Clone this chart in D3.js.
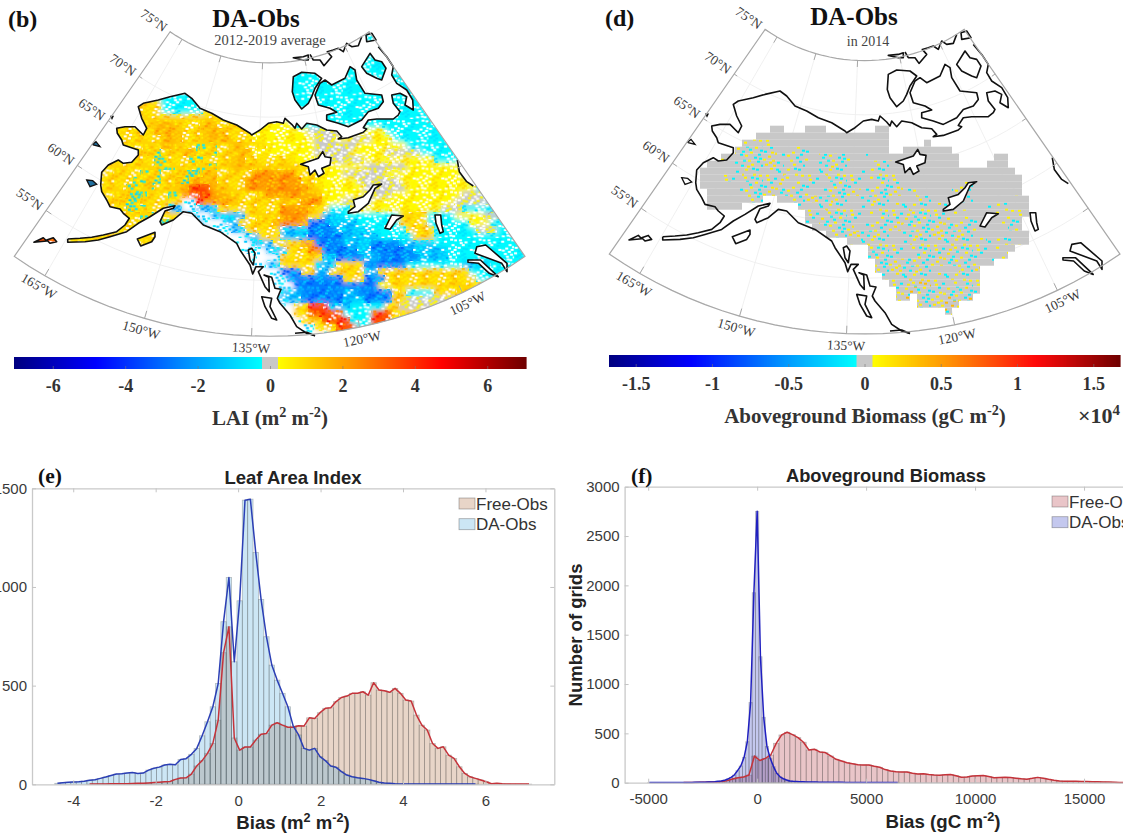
<!DOCTYPE html>
<html>
<head>
<meta charset="utf-8">
<script src="https://cdnjs.cloudflare.com/ajax/libs/d3/7.8.5/d3.min.js"></script>
<style>
  body { margin: 0; background: #fff; }
  svg { display: block; }
  .serif { font-family: "Liberation Serif", serif; }
  .sans { font-family: "Liberation Sans", sans-serif; }
</style>
</head>
<body>
<div id="chart"></div>
<script>
// ---------- histogram data (e), leaf area index, bin width 0.13 ----------
const laiBinWidth = 0.13;
const laiDaStart = -4.383;
const laiDaCounts = [5,8,10,12,13,16,21,23,30,37,45,52,54,57,60,55,57,72,81,87,98,101,99,126,130,152,182,246,317,393,511,824,1048,621,930,1440,1445,1175,937,748,604,528,461,393,295,250,182,173,182,140,120,93,86,64,47,38,33,30,25,18,10,6,5,3,2,2,2,2,1,1,1,1,1,1,1,1,1,1,1];
const laiFreeStart = -3.603;
const laiFreeCounts = [1,2,2,2,3,3,3,3,4,5,5,7,9,11,13,14,25,32,33,52,93,120,157,207,325,667,798,235,173,189,189,224,254,258,300,312,300,289,289,297,295,337,334,363,385,388,419,440,447,461,461,469,452,515,478,474,466,486,461,427,422,351,300,275,207,182,190,148,131,89,55,38,30,22,13,3,5,3,2,1,1,1,1];
const laiXTicks = [-4,-2,0,2,4,6];
const laiYTicks = [0,500,1000,1500];

// ---------- histogram data (f), aboveground biomass ----------
const agbDaWidth = 150;
const agbDaStart = -4950;
const agbDaCounts = [1,1,1,1,2,2,2,2,2,3,3,3,3,3,4,4,5,5,7,8,10,14,17,24,37,54,78,122,170,257,416,812,1926,2750,1277,663,366,247,163,95,60,40,27,17,14,12,10,9,8,7,6,6,5,5,5,4,4,4,4,4,3,3,3,3,3,3,2,2,2,2,2,2,1,1,1,1,1];
const agbFreeWidth = 250;
const agbFreeStart = -3375;
const agbFreeCounts = [2,2,3,4,5,8,8,11,21,38,51,58,78,270,225,247,281,399,484,511,487,457,410,332,339,312,305,271,237,220,203,193,183,180,180,166,156,133,119,112,109,109,95,88,90,82,78,76,80,84,70,55,58,68,70,72,62,50,52,54,52,46,40,36,44,54,46,34,24,18,15,14,14,12,12,10,10,8,6,5,3,3,3];
const agbXTicks = [-5000,0,5000,10000,15000,20000];
const agbYTicks = [0,500,1000,1500,2000,2500,3000];

// ---------- colour bars ----------
const laiBarTicks = [-6,-4,-2,0,2,4,6];
const agbBarTicks = [-1.5,-1,-0.5,0,0.5,1,1.5];

// ---------- map grid, rows run-length coded: count + class letter ----------
const laiRows = [
  "40.14c","40.14c","40.14c","40.14c","40.14c","40.14c",
  "39.26c","39.26c","39.26c",
  "20.8c11.26c",
  "18.3a7c1a10.26c",
  "17.4a6c4a8.26c",
  "18.15a6.26c",
  "14.6a3n4a2n5a6y25c",
  "14.6a4n3a3n4a8y5g6y14c",
  "14.7a3n3a4n3a9y3g2y3g3y16c",
  "14.7a2n3a3m2a2n3a7y6g7y15c",
  "14.5a2m3a2n3m3a2n9y5g5y5g14c",
  "14.6a2m3a2m4a2n7a3y7g10y12c",
  "13.7a3m3a3m2a3n8a8y6g9y10c",
  "12.6a3m3a3m2n5a6o3a4y6g11y8c",
  "12.5a4m2a2m4n4a8o2a6y6g10y8c",
  "12.4a4m3a2n3r2n3a9o2a6y6g10y7c",
  "12.4a3m3a2m1o3r1o2n5a5o3n6y4g10y3g6c",
  "12.3a3m4a2m2w1r3o2n9a3o3y4g12y5g5c",
  "12.4a3m3a2l2w3l9a4o3a3c7y6y3g9c",
  "15.3a2m4a2l2w2l3l5a4o2a3l8c4a4c4y3g3c",
  "15.6a3m3l3w2l5a5o3b4l6c4a6c3y5c",
  "15.7a3m3l3w2l4a1a4l4b5l5c4a6c3g4c",
  "3.4r1.15a2m5.3w2l3a4l5b5l5c3a13c",
  "3.4r1.13a3a6.4w3l4a2o4b4l4b5l13c",
  "18.6a8.4w3l3a2o5b2l6b5l11c",
  "19.5a10.4w3a3a2l4b2l6b4l11c",
  "34.2w2l5a3l4a6b8c4l5c",
  "36.2w3b2a2l5a2l13a8c",
  "37.2w8b3a3b13a7c",
  "37.3w12b2y17a",
  "36.2w3l6b2l5b2a4c13a",
  "37.4l6b3l4b2a7g10a",
  "38.2w2a3r3l5c2a8g8a",
  "40.2a5r4c3r10a5a",
  "39.2w3a4r3c3r9y",
  "41.2w3a3r2c3r6y",
  "41.4w2a3r2a2r",
  "42.3a3r"
];
const agbRows = [
  "","","","","","","","","","","","","","",
  "23.2g3.3g7.2g",
  "21.19g",
  "19.4h17g5.1g",
  "18.6k5h11g2.7g",
  "16.3h5k6h4k3h13g5.2g",
  "14.4g7k5h4k8h8g4.3g",
  "13.4g2h7k4h5k4h2k17g",
  "13.3g3h6k6h4k3h3k18g",
  "13.5g2h5k7h3k4h3k8g2h7g",
  "14.4g3h5k6h4k3h3k2h5g3h7g",
  "14.3g5h2.4h4k4h3k3h4h4g2h6g2h",
  "14.5g1.7.3h4k5h4k3h4k4g3h3g",
  "28.3h3k5h4k3k5h3g5h1g",
  "28.2h3k6h4k3k3k4h3g3h",
  "29.3h3k5h2k2h5k5h3g2h",
  "31.3h5k3h4k5k4h3g2h",
  "34.2h4k3h7k4k5h1g",
  "37.3k4h6k3k3h2g",
  "37.4k3h6k4h3h",
  "38.5k3h5k2h2h",
  "38.5k3k4h3k",
  "39.5k3h2k4k",
  "40.4k2v2k3h2k",
  "41.3v2k2v3k2v",
  "41.2v1.3k2v2k1v",
  "44.3k3v",
  "48.1v"
];

// class -> [base value, four speckle values], in the units of each colour bar
const laiClasses = {
  y: [0.35, ["#fff","#fff",0.9,0.25]],
  g: [0, [0.3,"#fff",0.3,"#fff"]],
  a: [1.0, [0.5,1.6,0.6,"#fff"]],
  n: [1.5, [0.9,2.2,1.1,1.8]],
  m: [0.95, [-0.6,0.4,1.6,-1.0]],
  o: [2.3, [1.5,2.9,1.9,1.1]],
  r: [3.6, [2.6,4.4,3.2,"#fff"]],
  w: ["#fff", [-1.3,-0.5,null,null]],
  c: [-0.3, ["#fff","#fff",-0.7,null]],
  l: [-1.3, [-0.4,"#fff",-2,-0.8]],
  b: [-2.7, [-1.7,-3.3,-1.3,-2.2]]
};
const agbClasses = {
  g: [0, [null,null,null,null]],
  h: [0, [0.1,-0.1,null,null]],
  k: [0, [0.1,-0.1,0.15,-0.06]],
  v: [0, [0.2,-0.1,0.1,0.35]]
};

// ---------- coast outlines, in the plane of the map projection ----------
const northCoast = [[67.7,239],[80,238.3],[91.7,237.3],[103.3,235],[116.7,231.7],[125,225],[129.3,218.3],[123.3,213.3],[120,209],[110,206.7],[106.7,200],[101.7,191.7],[100.7,185],[101.7,172.3],[108.3,165],[118.3,160],[123.3,163.3],[131.7,162.3],[138.3,155],[138.3,150],[123.3,145],[121.7,140],[117.3,133.3],[116.7,128.3],[125,126.7],[135,126.7],[143.3,135],[146.7,128.3],[141.7,118.3],[138.3,106.7],[143.3,103.3],[158.3,100],[170,96.7],[185,93.3],[191.7,98.3],[200,108.3],[211.7,113.3],[223.3,120],[236.7,125],[250,133.3],[251.7,135],[260,130],[268.3,123.3],[276.7,121.7],[283.3,123.3],[285,118.3],[291.7,124.3],[295,128.3],[296.7,123.3],[301.7,129],[306.7,123.3],[316.7,125],[326.7,130],[336.7,131],[341.7,136.7],[338.3,139],[348.3,137.7],[363.3,132.3],[366.7,129],[363.3,127.7],[368.3,120],[376.7,119],[393.3,119],[398.3,115],[400,111.7],[393.3,103.3],[391.7,95],[400,93.3],[406.7,96.7],[405,105],[413.3,110],[412.7,100],[406.7,90],[396.7,83.3],[391.7,75],[393.3,66.7],[386.7,56.7],[378.3,46.7]];
const southCoast = [[67.7,239],[67.7,242.3],[85,241.7],[98.3,240],[110,236.7],[126.7,231.7],[138.3,223.3],[150,216.7],[163.3,208.3],[175,205.7],[173.3,208.3],[165,211],[160,221.7],[161.7,225],[173.3,220],[183.3,211.7],[191.7,213.3],[203.3,225],[220,231.7],[236.7,243.3],[240,250],[250,265],[252.7,274],[256,266.7],[263.3,266.7],[258.3,271.7],[265,286.7],[269.3,291.7],[268.7,277.3],[264,275],[271.7,277.3],[275,288.3],[281,289.3],[277.3,298.3],[280,303.3],[290,315],[296.7,326.7],[306.7,333.3],[315,335.7]];
const arcticLine = [[310,54.3],[313.3,60],[320,60],[324,65.7],[331.7,56.7],[327.3,51.7],[333.3,50],[338.3,48.3],[343.3,51.7],[346.7,43.3],[351.7,46.7],[358.3,45.7],[361.7,36.7]];
const bayLine = [[457.3,160],[459.3,171.7],[466.7,181.7],[473.3,186]];
const vancouverLine = [[295,333.3],[306.7,332.3],[315,335.7]];
const islandRings = [
  [[293.3,76.7],[301.7,72.3],[315,73.3],[321.7,78.3],[315,88.3],[311.7,96.7],[308.3,103.3],[301.7,109],[295,100],[292.3,91.7]],
  [[315,95],[320,83.3],[325,80],[331.7,85],[345,78.3],[350,66.7],[355,70],[356.7,80],[365,93.3],[381.7,95],[383.3,101.7],[378.3,108.3],[368.3,111.7],[361.7,120],[348.3,126.7],[338.3,123.3],[326.7,120],[326.7,115],[336.7,112.3],[330,108.3],[318.3,105]],
  [[361.7,66.7],[370,53.3],[375,60],[381.7,61.7],[386,68.3],[381.7,80],[376.7,78.3],[366.7,73.3]],
  [[366,35],[371.7,33.3],[376,40],[366.7,41.7]],
  [[293.3,57.7],[303.3,56.7],[308.3,55],[308.3,60],[303.3,60]],
  [[137.3,239],[155,232.3],[155,236.7],[151.7,241.7],[140.7,246]],
  [[34,242.3],[43.3,237.7],[46.7,241]],
  [[46.7,240],[53.3,237.7],[56.7,241.7],[50,243.3]],
  [[261.7,296.7],[271.7,298.3],[270,306.7],[276.7,320],[271.7,318.3],[265,306.7]],
  [[248.3,250],[251.7,248.3],[255,253.3],[253.3,265],[250,260]]
];
const smallIslandRings = [
  [[86.7,180],[92.7,180.7],[96.7,184.3],[90,186.7]],
  [[92.7,144.3],[96,141.7],[100,146.7],[93.3,145]],
  [[111,116.5],[113,116.5],[112,118.5]]
];
const lakeRings = [
  [[300.7,164.3],[318.3,158.3],[322.7,151.7],[325,156.7],[331,157.7],[330,165],[321.7,168.3],[324,173.3],[318.3,176.7],[315,170],[310,175],[308.3,166.7]],
  [[348.3,211.7],[355,206.7],[353.3,200],[363.3,196.7],[370,190],[373.3,185],[381.7,184],[375,188.3],[368.3,203.3],[358.3,211.7],[348.3,213.3]],
  [[385,228.3],[391.7,215],[403.3,216],[396.7,220],[390,229.3]],
  [[435,215],[440.7,215],[441.7,225],[443.3,231.7],[440,233.3],[436,223.3]],
  [[476.8,246.7],[485.7,245],[507,263.3],[507,271.7],[501.8,263.3],[475,253.3]],
  [[467.9,260],[480.4,260],[498.2,276.7],[489.3,273.3],[478.6,263.3],[468,262.3]]
];
const bayRing = [[457.3,160],[459.3,171.7],[466.7,181.7],[473.3,186],[490,186],[470,160]];

const lonTicks = [-165,-150,-135,-120,-105];
const latTicks = [55,60,65,70,75];

// ---------- speckle tile for the map cells ----------
const speckTile = [[3,2],[11,5],[20,1],[30,4],[38,2],[7,9],[16,10],[25,8],[34,9],[1,13],[12,15],[21,13],[29,14],[39,12],[5,18],[17,19],[24,17],[33,19],[9,22],[14,24],[27,22],[36,23],[2,26],[20,27],[30,26],[40,27],[7,30],[13,31],[24,31],[35,31],[18,6],[28,11],[4,6],[37,16],[10,27],[22,22],[32,1],[15,33],[26,28],[41,7],[0,21],[19,16],[8,14],[35,5],[23,4],[31,30],[6,24],[38,20]];

const width = 1123, height = 835;
const svg = d3.select("#chart").append("svg")
    .attr("width", width)
    .attr("height", height);
const defs = svg.append("defs");
const addBlur = (id, sd) => defs.append("filter").attr("id", id)
    .append("feGaussianBlur").attr("stdDeviation", sd);
addBlur("wash", 2.4);
addBlur("crisp", 0.5);
addBlur("speck", 0.35);

// jet style colour map with a grey band around zero, t runs -1..1
const jetNeg = d3.scaleLinear()
    .domain([-1, -0.68, -0.33, -0.03])
    .range(["#00007f", "#0000ff", "#0090ff", "#00ffff"]);
const jetPos = d3.scaleLinear()
    .domain([0.03, 0.33, 0.67, 1])
    .range(["#ffff00", "#ff9000", "#ff0000", "#6f0000"]);
const jet = (t) => t < -0.03 ? jetNeg(t) : t > 0.03 ? jetPos(t) : "#c8c8c8";

// ---------- map ----------
const graticule = d3.geoGraticule()
    .extent([[-170, 50], [-95, 75]])
    .step([15, 5]);
const coneN = 0.9266;
const projection = d3.geoConicConformal()
    .parallels([60, 75])
    .rotate([132.5, 0])
    .fitExtent([[14.3, 29], [525, 339]], graticule.outline());
const geoPath = d3.geoPath(projection);
const planePath = d3.geoPath(d3.geoIdentity());
const closeRing = (r) => r.concat([r[0]]);

const landRing = northCoast
    .concat([[560, 47], [560, 400], [316, 400]])
    .concat(southCoast.slice().reverse());
const colX = d3.scaleBand().domain(d3.range(74)).range([14, 14 + 74 * 7]);
const rowY = d3.scaleBand().domain(d3.range(45)).range([30, 30 + 45 * 7]);

function makePatterns(prefix, classes, vmax, tileScale) {
    const colour = (v) => typeof v === "number" ? jet(v / vmax) : v;
    Object.keys(classes).forEach((k) => {
        const p = defs.append("pattern")
            .attr("id", prefix + k)
            .attr("patternUnits", "userSpaceOnUse")
            .attr("width", 42 * tileScale)
            .attr("height", 35 * tileScale);
        p.selectAll(".s")
            .data(speckTile.filter((d, i) => classes[k][1][i % 4] !== null))
            .join("rect")
            .attr("x", (d) => d[0] * tileScale)
            .attr("y", (d) => d[1] * tileScale)
            .attr("width", 3)
            .attr("height", 2)
            .attr("fill", (d) => colour(classes[k][1][speckTile.indexOf(d) % 4]));
    });
}
makePatterns("lai-", laiClasses, 7.07, 0.68);
makePatterns("agb-", agbClasses, 1.675, 1);

function parseRow(row, r) {
    let out = [], c = 0;
    for (const m of row.matchAll(/(\d+)(\D)/g)) {
        const n = +m[1];
        if (m[2] !== ".") out.push({ r: r, c: c, n: n, k: m[2] });
        c += n;
    }
    return out;
}

function drawMap(id, offset, rows, prefix, classes, vmax, useLand) {
    const g = svg.append("g").attr("transform", "translate(" + offset[0] + "," + offset[1] + ")");

    g.append("g").selectAll("path").data(graticule.lines()).join("path")
        .attr("d", geoPath)
        .attr("fill", "none")
        .attr("stroke", "#ececec")
        .attr("stroke-width", 0.8);

    defs.append("clipPath").attr("id", id + "-frame").append("path")
        .attr("d", geoPath(graticule.outline()));
    defs.append("clipPath").attr("id", id + "-land").append("path")
        .attr("d", planePath({
            type: "MultiPolygon",
            coordinates: [[closeRing(landRing)]].concat(islandRings.map((r) => [closeRing(r)]))
        }));

    let field = g.append("g").attr("clip-path", "url(#" + id + "-frame)");
    if (useLand) field = field.append("g").attr("clip-path", "url(#" + id + "-land)");
    const cells = rows.flatMap(parseRow);
    const placeCells = (sel) => sel
        .attr("x", (d) => colX(d.c))
        .attr("y", (d) => rowY(d.r))
        .attr("width", (d) => d.n * colX.bandwidth())
        .attr("height", rowY.bandwidth());
    const baseColour = (v) => typeof v === "number" ? jet(v / vmax) : v;
    // soft colour wash of the class first, speckle on top
    field.append("g").attr("filter", useLand ? "url(#wash)" : "url(#crisp)")
        .selectAll("rect").data(cells).join("rect")
        .call(placeCells)
        .attr("fill", (d) => baseColour(classes[d.k][0]));
    field.append("g").attr("filter", "url(#speck)")
        .selectAll("rect").data(cells).join("rect")
        .call(placeCells)
        .attr("fill", (d) => "url(#" + prefix + d.k + ")");

    // white lakes, then the coast on top
    g.append("path")
        .attr("d", planePath({ type: "Polygon", coordinates: [closeRing(bayRing)] }))
        .attr("fill", "#fff");
    g.append("g").selectAll("path").data(smallIslandRings).join("path")
        .attr("d", (d) => planePath({ type: "Polygon", coordinates: [closeRing(d)] }))
        .attr("fill", useLand ? "#1f6f9f" : "#fff")
        .attr("stroke", "#111")
        .attr("stroke-width", 1.3);
    g.append("g").selectAll("path").data(lakeRings).join("path")
        .attr("d", (d) => planePath({ type: "Polygon", coordinates: [closeRing(d)] }))
        .attr("fill", "#fff")
        .attr("stroke", "#111")
        .attr("stroke-width", 1.6)
        .attr("stroke-linejoin", "round");
    g.append("g").selectAll("path").data(islandRings).join("path")
        .attr("d", (d) => planePath({ type: "Polygon", coordinates: [closeRing(d)] }))
        .attr("fill", "none")
        .attr("stroke", "#111")
        .attr("stroke-width", 1.6)
        .attr("stroke-linejoin", "round");
    g.append("g").selectAll("path")
        .data([northCoast, southCoast, arcticLine, bayLine, vancouverLine])
        .join("path")
        .attr("d", (d) => planePath({ type: "LineString", coordinates: d }))
        .attr("fill", "none")
        .attr("stroke", "#111")
        .attr("stroke-width", 1.6)
        .attr("stroke-linejoin", "round");

    // frame and ticks
    g.append("path")
        .attr("d", geoPath(graticule.outline()))
        .attr("fill", "none")
        .attr("stroke", "#a8a8a8")
        .attr("stroke-width", 1.2);
    const ticks = [];
    lonTicks.forEach((lon) => {
        ticks.push([[lon, 50], [lon, 50.7]]);
        ticks.push([[lon, 75], [lon, 74.4]]);
    });
    latTicks.forEach((lat) => {
        ticks.push([[-170, lat], [-169, lat]]);
        ticks.push([[-95, lat], [-96, lat]]);
    });
    g.append("g").selectAll("path").data(ticks).join("path")
        .attr("d", (d) => geoPath({ type: "LineString", coordinates: d }))
        .attr("fill", "none")
        .attr("stroke", "#a8a8a8");

    // lon labels sit under the bottom arc, lat labels off the left edge
    lonTicks.forEach((lon) => {
        const a = coneN * (lon + 132.5) * Math.PI / 180;
        const p = projection([lon, 50]);
        g.append("text").attr("class", "serif")
            .attr("transform", "translate(" + (p[0] + 12 * Math.sin(a)) + "," + (p[1] + 12 * Math.cos(a)) + ") rotate(" + (-a * 180 / Math.PI) + ")")
            .attr("text-anchor", "middle")
            .attr("dominant-baseline", "central")
            .attr("font-size", 13.5)
            .attr("fill", "#3a3a3a")
            .text(-lon + "°W");
    });
    const edge = coneN * 37.5;
    latTicks.forEach((lat) => {
        const p = projection([-170, lat]);
        const r = edge * Math.PI / 180;
        g.append("text").attr("class", "serif")
            .attr("transform", "translate(" + (p[0] - 20 * Math.cos(r)) + "," + (p[1] - 20 * Math.sin(r)) + ") rotate(" + edge + ")")
            .attr("text-anchor", "middle")
            .attr("dominant-baseline", "central")
            .attr("font-size", 13.5)
            .attr("fill", "#3a3a3a")
            .text(lat + "°N");
    });
}
drawMap("mb", [0, 0], laiRows, "lai-", laiClasses, 7.07, true);
drawMap("md", [595, -2.3], agbRows, "agb-", agbClasses, 1.675, false);

// ---------- colour bars ----------
function drawBar(x0, x1, y0, vmax, barTicks) {
    const x = d3.scaleLinear().domain([-vmax, vmax]).range([x0, x1]);
    const g = svg.append("g");
    const steps = d3.range(-vmax, vmax, vmax / 256);
    g.selectAll("rect").data(steps).join("rect")
        .attr("x", (d) => x(d))
        .attr("y", y0)
        .attr("width", (x1 - x0) / 512 + 0.6)
        .attr("height", 12)
        .attr("fill", (d) => jet((d + vmax / 512) / vmax));
    const ax = g.append("g")
        .attr("class", "serif")
        .attr("transform", "translate(0," + (y0 + 12) + ")")
        .call(d3.axisBottom(x).tickValues(barTicks).tickSizeInner(-3).tickSizeOuter(0).tickPadding(10).tickFormat((d) => d));
    ax.select(".domain").remove();
    ax.selectAll("line").attr("stroke", "#777").attr("stroke-opacity", 0.6);
    ax.selectAll("text").attr("font-size", 18).attr("font-weight", "bold").attr("fill", "#333");
}
drawBar(14, 526, 357, 7.07, laiBarTicks);
drawBar(609, 1120, 355, 1.675, agbBarTicks);

function addText(x, y, parts, opts) {
    const t = svg.append("text")
        .attr("class", opts.cls)
        .attr("x", x)
        .attr("y", y)
        .attr("text-anchor", opts.anchor || "middle")
        .attr("font-size", opts.size)
        .attr("font-weight", opts.weight || "normal")
        .attr("fill", opts.fill || "#333");
    if (opts.rotate) t.attr("transform", "rotate(" + opts.rotate + " " + x + " " + y + ")");
    let shift = 0;
    parts.forEach((p) => {
        const isSup = Array.isArray(p);
        const want = isSup ? -opts.size * 0.38 : 0;
        t.append("tspan")
            .attr("dy", want - shift)
            .attr("font-size", isSup ? opts.size * 0.68 : opts.size)
            .text(isSup ? p[0] : p);
        shift = want;
    });
}
const serifBold = (size) => ({ cls: "serif", size: size, weight: "bold" });
const sansBold = (size) => ({ cls: "sans", size: size, weight: "bold", fill: "#222" });

addText(8, 27, ["(b)"], { cls: "serif", size: 24, weight: "bold", anchor: "start", fill: "#111" });
addText(605, 26, ["(d)"], { cls: "serif", size: 24, weight: "bold", anchor: "start", fill: "#111" });
addText(256, 27, ["DA-Obs"], { cls: "serif", size: 25, weight: "bold", fill: "#111" });
addText(854, 25, ["DA-Obs"], { cls: "serif", size: 25, weight: "bold", fill: "#111" });
addText(270, 45, ["2012-2019 average"], { cls: "serif", size: 14.5, fill: "#444" });
addText(868, 46, ["in 2014"], { cls: "serif", size: 14, fill: "#444" });
addText(270, 425, ["LAI (m", ["2"], " m", ["-2"], ")"], serifBold(21));
addText(865, 423, ["Aboveground Biomass (gC m", ["-2"], ")"], serifBold(21));
addText(1120, 423, ["×10", ["4"]], { cls: "serif", size: 22, weight: "bold", anchor: "end" });

// ---------- histograms ----------
function drawHist(opts) {
    const x = d3.scaleLinear().domain(opts.xDomain).range([opts.left, opts.right]);
    const y = d3.scaleLinear().domain(opts.yDomain).range([opts.bottom, opts.top]);
    const g = svg.append("g");

    opts.series.forEach((s) => {
        const bins = s.counts.map((c, i) => ({ mid: s.start + i * s.width, count: c }));
        g.append("g").selectAll("rect").data(bins).join("rect")
            .attr("x", (d) => x(d.mid - s.width / 2))
            .attr("y", (d) => y(d.count))
            .attr("width", (d) => x(d.mid + s.width / 2) - x(d.mid - s.width / 2))
            .attr("height", (d) => y(0) - y(d.count))
            .attr("fill", s.fill)
            .attr("fill-opacity", 0.3)
            .attr("stroke", "#444")
            .attr("stroke-opacity", 0.32)
            .attr("stroke-width", 0.8);
        s.bins = bins;
    });
    opts.series.forEach((s) => {
        g.append("path")
            .datum(s.bins)
            .attr("d", d3.line().x((d) => x(d.mid)).y((d) => y(d.count)))
            .attr("fill", "none")
            .attr("stroke", s.line)
            .attr("stroke-width", 1.5)
            .attr("stroke-linejoin", "round");
    });

    // box with inward ticks on every side
    const style = (ax) => {
        ax.select(".domain").attr("stroke", "#c9c9c9").attr("stroke-width", 1.3);
        ax.selectAll("line").attr("stroke", "#c4c4c4");
        ax.selectAll("text").attr("font-size", 15).attr("fill", "#3a3a3a");
    };
    g.append("g").attr("class", "sans")
        .attr("transform", "translate(0," + opts.bottom + ")")
        .call(d3.axisBottom(x).tickValues(opts.xTicks).tickSizeInner(-4).tickSizeOuter(0).tickPadding(11).tickFormat((d) => d))
        .call(style);
    g.append("g").attr("class", "sans")
        .attr("transform", "translate(0," + opts.top + ")")
        .call(d3.axisTop(x).tickValues(opts.xTicks).tickSizeInner(-4).tickSizeOuter(0).tickFormat(""))
        .call(style);
    g.append("g").attr("class", "sans")
        .attr("transform", "translate(" + opts.left + ",0)")
        .call(d3.axisLeft(y).tickValues(opts.yTicks).tickSizeInner(-4).tickSizeOuter(0).tickPadding(5).tickFormat((d) => d))
        .call(style);
    g.append("g").attr("class", "sans")
        .attr("transform", "translate(" + opts.right + ",0)")
        .call(d3.axisRight(y).tickValues(opts.yTicks).tickSizeInner(-4).tickSizeOuter(0).tickFormat(""))
        .call(style);

    // legend
    opts.series.forEach((s, i) => {
        g.append("rect")
            .attr("x", opts.legendX)
            .attr("y", opts.legendY + i * 20.7)
            .attr("width", 16)
            .attr("height", 11)
            .attr("fill", s.fill)
            .attr("fill-opacity", 0.3)
            .attr("stroke", "#444")
            .attr("stroke-opacity", 0.45)
            .attr("stroke-width", 0.8);
        g.append("text").attr("class", "sans")
            .attr("x", opts.legendX + 17)
            .attr("y", opts.legendY + 11.5 + i * 20.7)
            .attr("font-size", 17)
            .attr("fill", "#333")
            .text(s.name);
    });
}

drawHist({
    left: 32, right: 554.3, top: 488.3, bottom: 784.3,
    xDomain: [-5, 7.67], yDomain: [0, 1500],
    xTicks: laiXTicks, yTicks: laiYTicks,
    legendX: 459, legendY: 498,
    series: [
        { name: "Free-Obs", start: laiFreeStart, width: laiBinWidth, counts: laiFreeCounts, fill: "#b27348", line: "#c5333a" },
        { name: "DA-Obs", start: laiDaStart, width: laiBinWidth, counts: laiDaCounts, fill: "#55acde", line: "#2b3fb5" }
    ]
});
drawHist({
    left: 624.6, right: 1193, top: 486.7, bottom: 782.7,
    xDomain: [-6083, 20000], yDomain: [0, 3000],
    xTicks: agbXTicks, yTicks: agbYTicks,
    legendX: 1052, legendY: 496,
    series: [
        { name: "Free-Obs", start: agbFreeStart, width: agbFreeWidth, counts: agbFreeCounts, fill: "#b5404a", line: "#c5333a" },
        { name: "DA-Obs", start: agbDaStart, width: agbDaWidth, counts: agbDaCounts, fill: "#3a48c8", line: "#2020c0" }
    ]
});

addText(38, 483, ["(e)"], { cls: "serif", size: 21.5, weight: "bold", anchor: "start", fill: "#111" });
addText(631, 483, ["(f)"], { cls: "serif", size: 21.5, weight: "bold", anchor: "start", fill: "#111" });
addText(293, 484, ["Leaf Area Index"], sansBold(18.5));
addText(886, 482, ["Aboveground Biomass"], sansBold(18.3));
addText(293, 829, ["Bias (m", ["2"], " m", ["-2"], ")"], sansBold(18.6));
addText(943, 828, ["Bias (gC m", ["-2"], ")"], sansBold(18.7));
addText(582, 635, ["Number of grids"], { cls: "sans", size: 18.5, weight: "bold", fill: "#222", rotate: -90 });
</script>
</body>
</html>
